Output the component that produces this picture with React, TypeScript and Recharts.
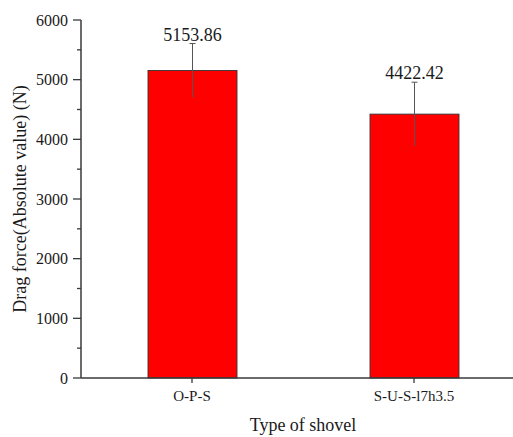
import { BarChart, Bar, XAxis, YAxis, LabelList } from "recharts";

const categories = ["O-P-S", "S-U-S-l7h3.5"];
const dragForce = [5153.86, 4422.42];
const forceError = [452, 535];
const yTicks = [0, 500, 1000, 1500, 2000, 2500, 3000, 3500, 4000, 4500, 5000, 5500, 6000];

const data = categories.map((name, i) => ({ name, force: dragForce[i], err: forceError[i] }));

const FONT = '"Liberation Serif", "Times New Roman", serif';
const AXIS = "#3a3a3a";
const TEXT = "#1a1a1a";

// major ticks every 1000 with a label, minor ones in between
const YTick = (props: any) => {
  const { x, y, payload } = props;
  const major = payload.value % 1000 === 0;
  return (
    <g>
      <line x1={major ? x + 5 : x + 9} x2={x + 13} y1={y} y2={y} stroke={AXIS} strokeWidth={1.3} />
      {major && (
        <text x={x} y={y} dy="0.35em" textAnchor="end" style={{ fontSize: 16, fontFamily: FONT, fill: TEXT }}>
          {payload.value}
        </text>
      )}
    </g>
  );
};

const XTick = (props: any) => {
  const { x, y, payload } = props;
  return (
    <text x={x} y={y} dy="0.75em" textAnchor="middle" style={{ fontSize: 15, fontFamily: FONT, fill: TEXT }}>
      {payload.value}
    </text>
  );
};

// bar with its error whisker (cap only at the upper end)
const BarWithError = (props: any) => {
  const { x, y, width, height, payload } = props;
  const errPx = (payload.err * height) / payload.force;
  const cx = x + width / 2;
  return (
    <g>
      <rect x={x} y={y} width={width} height={height} fill="#ff0000" stroke="#333" strokeWidth={0.9} />
      <line x1={cx} x2={cx} y1={y - errPx} y2={y + errPx} stroke="#555" strokeWidth={1} />
      <line x1={cx - 3} x2={cx + 3} y1={y - errPx} y2={y - errPx} stroke="#555" strokeWidth={1} />
    </g>
  );
};

const ValueLabel = (props: any) => {
  const { x, y, width, height, value, index } = props;
  const errPx = (forceError[index] * height) / value;
  return (
    <text x={x + width / 2} y={y - errPx - 3} textAnchor="middle" style={{ fontSize: 18, fontFamily: FONT, fill: TEXT }}>
      {value}
    </text>
  );
};

export default function App() {
  return (
    <div style={{ position: "absolute", left: 0, top: 0, width: 513, height: 437, overflow: "hidden", background: "#fff" }}>
      <BarChart width={530} height={437} data={data} margin={{ top: 20, right: 5, bottom: 0, left: 0 }} barSize={89}>
        <XAxis
          dataKey="name"
          height={59}
          tickSize={5}
          tickMargin={7}
          axisLine={{ stroke: AXIS, strokeWidth: 1.5 }}
          tickLine={{ stroke: AXIS, strokeWidth: 1.3 }}
          tick={<XTick />}
          label={{ value: "Type of shovel", position: "insideBottom", offset: 6, style: { fontSize: 18, fontFamily: FONT, fill: TEXT } }}
        />
        <YAxis
          width={81}
          domain={[0, 6000]}
          ticks={yTicks}
          interval={0}
          tickSize={8}
          tickMargin={5}
          tickLine={false}
          axisLine={{ stroke: AXIS, strokeWidth: 1.5 }}
          tick={<YTick />}
          label={{
            value: "Drag force(Absolute value) (N)",
            angle: -90,
            position: "insideLeft",
            offset: 20,
            style: { textAnchor: "middle", fontSize: 18, fontFamily: FONT, fill: TEXT },
          }}
        />
        <Bar dataKey="force" shape={<BarWithError />} isAnimationActive={false}>
          <LabelList dataKey="force" content={<ValueLabel />} />
        </Bar>
      </BarChart>
    </div>
  );
}
